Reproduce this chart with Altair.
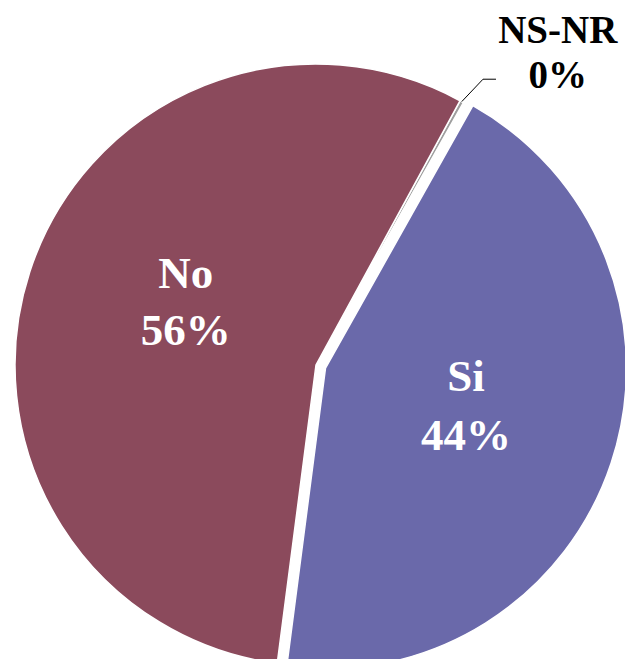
import math
import altair as alt
import pandas as pd

# ---- data ----
categories = ["NS-NR", "Si", "No"]
values = [0.2, 44, 56]
pct_labels = ["0%", "44%", "56%"]
colors = ["#9E9E9E", "#6A69AA", "#8B4A5C"]

# ---- geometry / style ----
W, H = 617, 651
CX, CY = 308, 357
R = 301
START_DEG = 28.6
EXPLODE = 10

total = sum(values)
order = list(range(len(categories)))
df = pd.DataFrame({
    "cat": categories,
    "value": values,
    "ord": order,
    "label": [f"{c}\n{p}" for c, p in zip(categories, pct_labels)],
})

start_rad = math.radians(START_DEG)


def mid_angle(name):
    i = categories.index(name)
    before = sum(values[:i])
    return start_rad + (before + values[i] / 2) / total * 2 * math.pi


a_si = mid_angle("Si")
SX = CX + EXPLODE * math.sin(a_si)
SY = CY - EXPLODE * math.cos(a_si)

theta_enc = alt.Theta(
    "value:Q",
    stack=True,
    scale=alt.Scale(domain=[0, total], range=[start_rad, start_rad + 2 * math.pi]),
)
color_enc = alt.Color(
    "cat:N",
    scale=alt.Scale(domain=categories, range=colors),
    legend=None,
)

base = alt.Chart(df).encode(theta=theta_enc, order=alt.Order("ord:Q"))

arcs_main = base.mark_arc(radius=R, stroke="white", strokeWidth=1.5).encode(
    color=color_enc,
    opacity=alt.when(alt.datum.cat == "Si").then(alt.value(0)).otherwise(alt.value(1)),
    x=alt.value(CX),
    y=alt.value(CY),
)
arcs_si = base.mark_arc(radius=R, stroke="white", strokeWidth=1.5).encode(
    color=color_enc,
    opacity=alt.when(alt.datum.cat == "Si").then(alt.value(1)).otherwise(alt.value(0)),
    x=alt.value(SX),
    y=alt.value(SY),
)

FONT = "Liberation Serif"

text_no = base.mark_text(
    radius=137, dy=-49, font=FONT, fontWeight="bold", fontSize=45,
    lineBreak="\n", lineHeight=57, color="white", baseline="middle", align="center",
).encode(
    text="label:N",
    opacity=alt.when(alt.datum.cat == "No").then(alt.value(1)).otherwise(alt.value(0)),
    x=alt.value(CX), y=alt.value(CY),
)
text_si = base.mark_text(
    radius=148, dy=-38, font=FONT, fontWeight="bold", fontSize=45,
    lineBreak="\n", lineHeight=59, color="white", baseline="middle", align="center",
).encode(
    text="label:N",
    opacity=alt.when(alt.datum.cat == "Si").then(alt.value(1)).otherwise(alt.value(0)),
    x=alt.value(SX), y=alt.value(SY),
)
text_ns = base.mark_text(
    radius=363, dx=66, dy=-16, font=FONT, fontWeight="bold", fontSize=39,
    lineBreak="\n", lineHeight=45, color="black", baseline="middle", align="center",
).encode(
    text="label:N",
    opacity=alt.when(alt.datum.cat == "NS-NR").then(alt.value(1)).otherwise(alt.value(0)),
    x=alt.value(CX), y=alt.value(CY),
)

# leader line for the tiny slice
a_ns = mid_angle("NS-NR")
p0 = (CX + R * math.sin(a_ns), CY - R * math.cos(a_ns))
p1 = (CX + 331 * math.sin(math.radians(30.3)), CY - 331 * math.cos(math.radians(30.3)))
p2 = (p1[0] + 13, p1[1])
one = alt.Chart(pd.DataFrame({"k": [0]}))
lead1 = one.mark_rule(color="black", strokeWidth=1).encode(
    x=alt.value(p0[0]), y=alt.value(p0[1]), x2=alt.value(p1[0]), y2=alt.value(p1[1])
)
lead2 = one.mark_rule(color="black", strokeWidth=1).encode(
    x=alt.value(p1[0]), y=alt.value(p1[1]), x2=alt.value(p2[0]), y2=alt.value(p2[1])
)

chart = alt.layer(arcs_main, arcs_si, lead1, lead2, text_no, text_si, text_ns).properties(
    width=W, height=H, padding=0, autosize=alt.AutoSizeParams(type="none")
).configure_view(stroke=None)

chart.save("out.html", embed_options={"renderer": "svg", "actions": False})
